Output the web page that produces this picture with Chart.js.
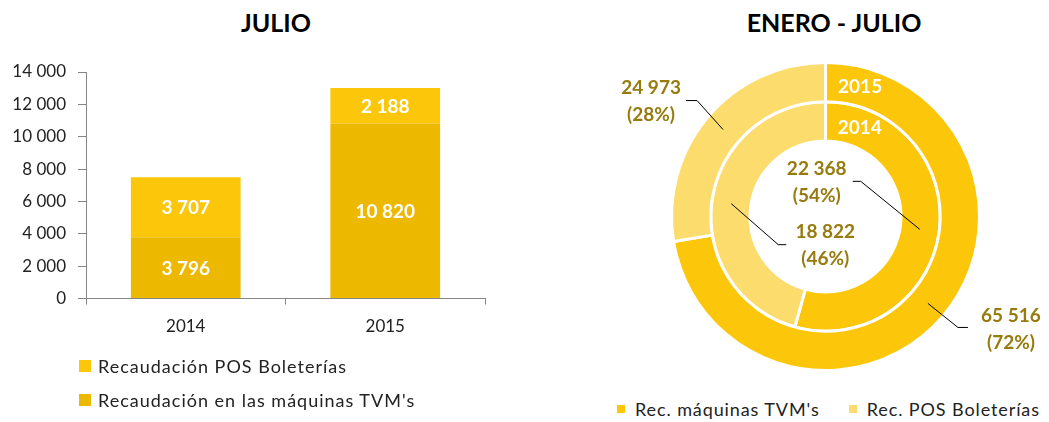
<!DOCTYPE html>
<html>
<head>
<meta charset="utf-8">
<script src="https://cdn.jsdelivr.net/npm/chart.js@4.4.0/dist/chart.umd.min.js"></script>
<style>
  body { margin: 0; width: 1049px; height: 422px; position: relative; background: #fff; font-family: Lato, sans-serif; overflow: hidden; }
  .title { position: absolute; font-weight: bold; font-size: 25px; color: #000; transform: translate(-50%, -50%); white-space: nowrap; }
  #bar-wrap { position: absolute; left: 0; top: 0; width: 500px; height: 353px; }
  #pie-wrap { position: absolute; left: 590px; top: 40px; width: 459px; height: 352px; }
  .legend { position: absolute; font-size: 18px; letter-spacing: 1px; color: #222; }
  .legend .item { display: flex; align-items: center; white-space: nowrap; }
  #bar-legend { left: 79px; top: 349px; }
  #bar-legend .item { height: 34px; }
  #bar-legend .box { width: 12px; height: 12px; margin-right: 7px; }
  #pie-legend { left: 617px; top: 398px; display: flex; gap: 29px; letter-spacing: 0.9px; }
  #pie-legend .box { width: 8px; height: 8px; margin-right: 10px; }
</style>
</head>
<body>
<div class="title" style="left:276px; top:22px;">JULIO</div>
<div class="title" style="left:834px; top:22px;">ENERO - JULIO</div>
<div id="bar-wrap"><canvas id="bar-chart"></canvas></div>
<div id="pie-wrap"><canvas id="pie-chart"></canvas></div>
<div class="legend" id="bar-legend"></div>
<div class="legend" id="pie-legend"></div>

<script>
// Data - July
const years = ['2014', '2015'];
const tvmJulio = [3796, 10820];
const posJulio = [3707, 2188];
const yMax = 14000;
const yStep = 2000;

// Data - January to July (outer ring first)
const ringYears = ['2015', '2014'];
const tvmEneJul = [65516, 22368];
const posEneJul = [24973, 18822];
const pieLabels = ["Rec. máquinas TVM's", 'Rec. POS Boleterías'];

// Colours
const darkGold = '#EDB800';
const gold = '#FCC60A';
const lightGold = '#FDDC6E';
const labelGold = '#977B0E';
const axisGrey = '#868686';

// Format numbers with a space as thousands separator
function fmt(v) {
  return String(v).replace(/\B(?=(\d{3})+(?!\d))/g, ' ');
}

// White value labels in the middle of each bar segment
const barLabels = {
  id: 'barLabels',
  afterDatasetsDraw(chart) {
    const ctx = chart.ctx;
    ctx.save();
    ctx.font = 'bold 19px Lato';
    ctx.fillStyle = '#fff';
    ctx.textAlign = 'center';
    ctx.textBaseline = 'middle';
    chart.data.datasets.forEach((ds, i) => {
      chart.getDatasetMeta(i).data.forEach((bar, j) => {
        const p = bar.getCenterPoint();
        ctx.fillText(fmt(ds.data[j]), p.x, p.y + 1);
      });
    });
    ctx.restore();
  }
};

// Callout offsets from each slice centroid: [ring][slice]
const callouts = [
  [{ elbow: [30, 24], end: [40, 24], text: [83, 12] }, { elbow: [-26, -29], end: [-37, -29], text: [-72, -42] }],
  [{ elbow: [-59, -48], end: [-67, -48], text: [-103, -60] }, { elbow: [47, 41], end: [55, 41], text: [94, 28] }]
];

const pieLabelsPlugin = {
  id: 'pieLabels',
  afterDatasetsDraw(chart) {
    const ctx = chart.ctx;
    ctx.save();
    ctx.textAlign = 'center';
    ctx.textBaseline = 'middle';
    chart.data.datasets.forEach((ds, i) => {
      const arcs = chart.getDatasetMeta(i).data;
      const total = ds.data.reduce((a, b) => a + b, 0);
      arcs.forEach((arc, j) => {
        const c = arc.tooltipPosition();
        const co = callouts[i][j];
        ctx.strokeStyle = '#000';
        ctx.lineWidth = 1;
        ctx.beginPath();
        ctx.moveTo(c.x, c.y);
        ctx.lineTo(c.x + co.elbow[0], c.y + co.elbow[1]);
        ctx.lineTo(c.x + co.end[0], c.y + co.end[1]);
        ctx.stroke();
        ctx.font = 'bold 19px Lato';
        ctx.fillStyle = labelGold;
        const tx = c.x + co.text[0];
        const ty = c.y + co.text[1];
        ctx.fillText(fmt(ds.data[j]), tx, ty);
        ctx.fillText('(' + Math.round(ds.data[j] / total * 100) + '%)', tx, ty + 27);
      });
      // year label near the top of each ring
      const a0 = arcs[0];
      const r = (a0.innerRadius + a0.outerRadius) / 2;
      const ang = a0.startAngle + 35 / r;
      ctx.font = 'bold 19px Lato';
      ctx.fillStyle = '#fff';
      ctx.fillText(ds.label, a0.x + Math.cos(ang) * r, a0.y + Math.sin(ang) * r);
    });
    ctx.restore();
  }
};

// Bar chart
const barChart = new Chart(document.getElementById('bar-chart'), {
  type: 'bar',
  data: {
    labels: years,
    datasets: [
      { label: "Recaudación en las máquinas TVM's", data: tvmJulio, backgroundColor: darkGold },
      { label: 'Recaudación POS Boleterías', data: posJulio, backgroundColor: gold }
    ]
  },
  options: {
    responsive: true,
    maintainAspectRatio: false,
    animation: false,
    layout: { padding: { top: 72, right: 15, bottom: 4, left: 0 } },
    datasets: { bar: { categoryPercentage: 1, barPercentage: 0.55 } },
    plugins: { legend: { display: false }, tooltip: { enabled: false } },
    scales: {
      x: {
        stacked: true,
        grid: { drawOnChartArea: false, tickLength: 6, color: axisGrey },
        border: { color: axisGrey },
        ticks: { color: '#222', font: { family: 'Lato', size: 17 }, padding: 12 }
      },
      y: {
        stacked: true,
        min: 0,
        max: yMax,
        afterFit(scale) { scale.width = 86; },
        grid: { drawOnChartArea: false, tickLength: 8, color: axisGrey },
        border: { color: axisGrey },
        ticks: { stepSize: yStep, color: '#222', font: { family: 'Lato', size: 17 }, padding: 12, callback: v => fmt(v) }
      }
    }
  },
  plugins: [barLabels]
});

// Doughnut chart
const pieChart = new Chart(document.getElementById('pie-chart'), {
  type: 'doughnut',
  data: {
    labels: pieLabels,
    datasets: ringYears.map((y, i) => ({
      label: y,
      data: [tvmEneJul[i], posEneJul[i]],
      backgroundColor: [gold, lightGold],
      borderColor: '#fff',
      borderWidth: 3
    }))
  },
  options: {
    responsive: true,
    maintainAspectRatio: false,
    animation: false,
    cutout: '49%',
    layout: { padding: { top: 21, right: 68, bottom: 20, left: 80 } },
    plugins: { legend: { display: false }, tooltip: { enabled: false } }
  },
  plugins: [pieLabelsPlugin]
});

// HTML legends
function addLegendItem(el, color, text) {
  const item = document.createElement('div');
  item.className = 'item';
  item.innerHTML = `<span class="box" style="background:${color}"></span><span>${text}</span>`;
  el.appendChild(item);
}
const barLegend = document.getElementById('bar-legend');
barChart.data.datasets.slice().reverse().forEach(ds => addLegendItem(barLegend, ds.backgroundColor, ds.label));
const pieLegend = document.getElementById('pie-legend');
pieLabels.forEach((l, i) => addLegendItem(pieLegend, [gold, lightGold][i], l));
</script>
</body>
</html>
